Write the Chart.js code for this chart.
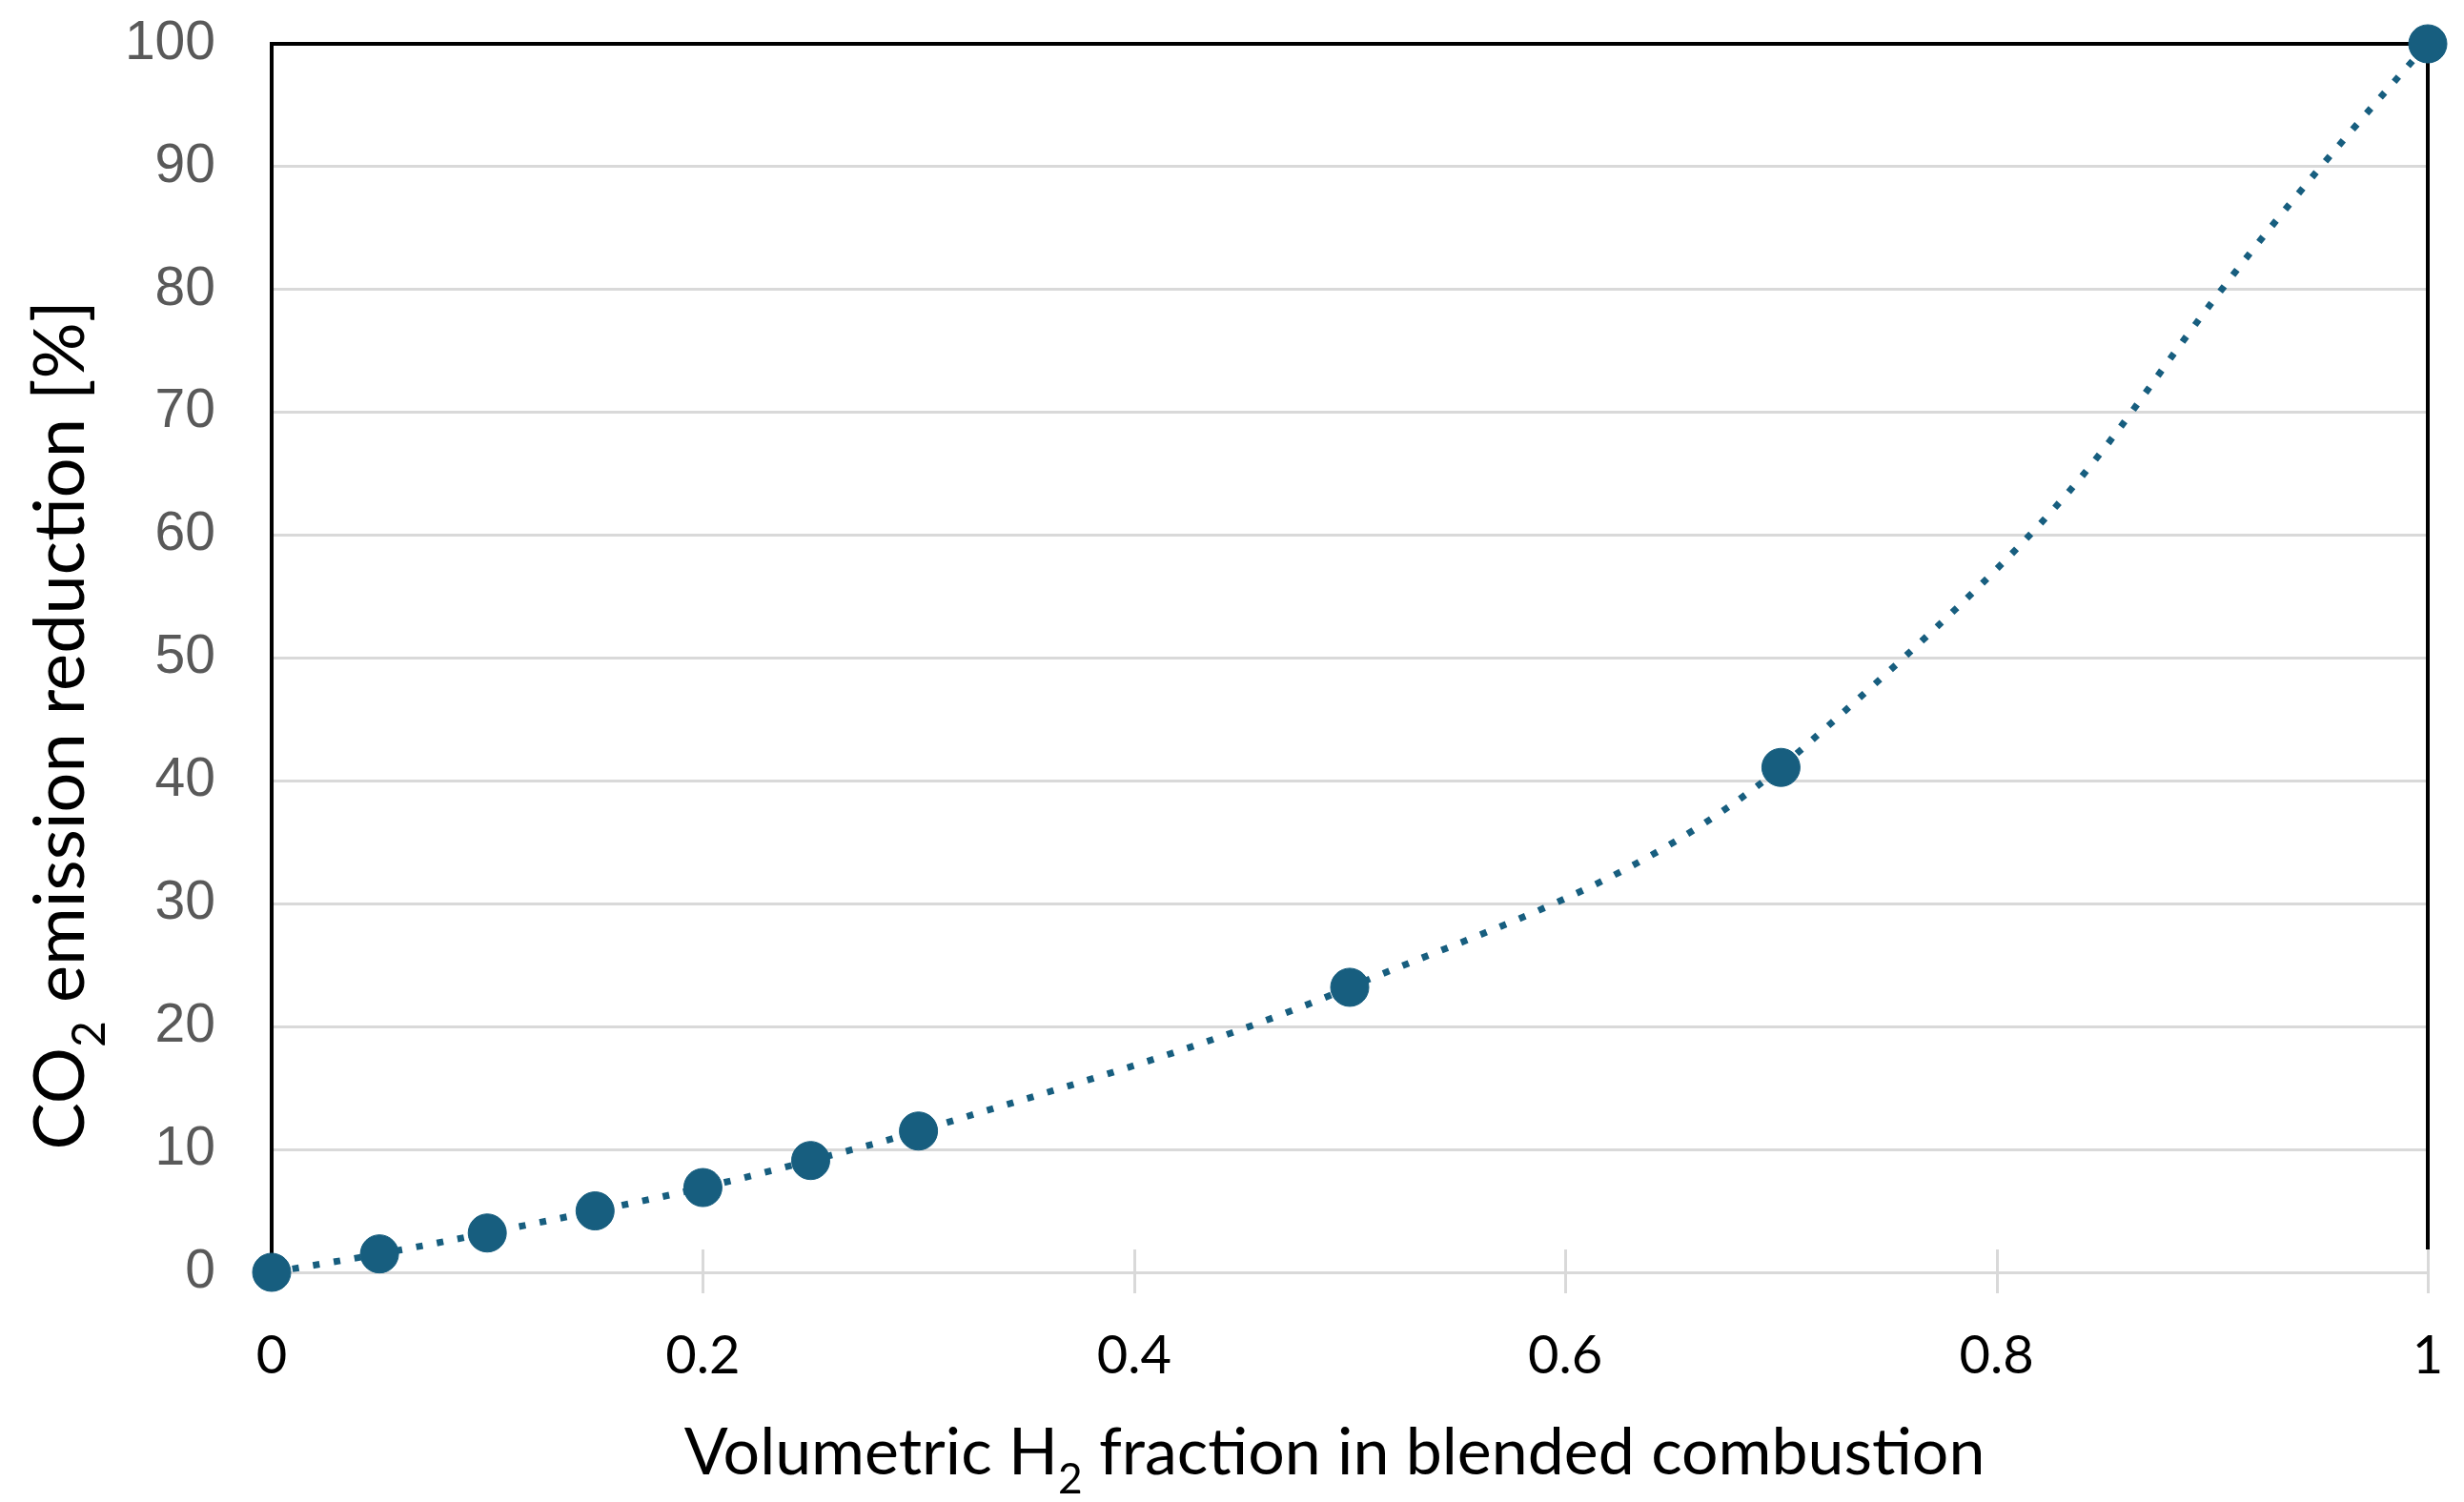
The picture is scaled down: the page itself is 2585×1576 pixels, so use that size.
<!DOCTYPE html>
<html lang="en">
<head>
<meta charset="UTF-8">
<title>CO2 emission reduction vs H2 fraction</title>
<script src="https://cdn.jsdelivr.net/npm/chart.js"></script>
<style>
  html, body { margin: 0; padding: 0; background: #ffffff; }
  #wrap { width: 2585px; height: 1576px; }
</style>
</head>
<body>
<div id="wrap"><canvas id="chart" width="2585" height="1576"></canvas></div>
<script>
// values
const h2Fraction = [0, 0.05, 0.1, 0.15, 0.2, 0.25, 0.3, 0.5, 0.7, 1.0];
const co2Reduction = [0, 1.5, 3.2, 5.0, 6.9, 9.1, 11.5, 23.2, 41.1, 100];

const xMin = 0, xMax = 1, xStep = 0.2;
const yMin = 0, yMax = 100, yStep = 10;

// axis titles, split so the "2" can be drawn as a subscript
const xTitleParts = [{ t: 'Volumetric H' }, { t: '2', sub: true }, { t: ' fraction in blended combustion' }];
const yTitleParts = [{ t: 'CO' }, { t: '2', sub: true }, { t: ' emission reduction [%]' }];

const lineColor = '#175E7F';
const gridColor = '#d9d9d9';
const titleFont = 'Lato, "Noto Sans", sans-serif';

// the last, widely spaced stretch of the curve is bent harder than the rest
const lastSeg = h2Fraction.length - 2;
const pts = h2Fraction.map((x, i) => ({ x: x, y: co2Reduction[i] }));
const upperPts = pts.slice(lastSeg - 1);

function drawRich(ctx, parts, size) {
    let total = 0;
    parts.forEach(p => {
        ctx.font = (p.sub ? size * 0.65 : size) + 'px ' + titleFont;
        p.w = ctx.measureText(p.t).width;
        total += p.w;
    });
    let x = -total / 2;
    parts.forEach(p => {
        ctx.font = (p.sub ? size * 0.65 : size) + 'px ' + titleFont;
        ctx.fillText(p.t, x, p.sub ? size * 0.3 : 0);
        x += p.w;
    });
}

// frame on top/right, cross tick marks on the x axis, and the two axis titles
const decorations = {
    id: 'decorations',
    beforeDatasetsDraw(chart) {
        const { ctx, chartArea } = chart;
        const xs = chart.scales.x;
        ctx.save();
        ctx.strokeStyle = gridColor;
        ctx.lineWidth = 3;
        xs.ticks.forEach(tk => {
            if (tk.value === xMin) return;
            const px = Math.round(xs.getPixelForValue(tk.value)) + 0.5;
            ctx.beginPath();
            ctx.moveTo(px, chartArea.bottom - 24);
            ctx.lineTo(px, chartArea.bottom + 22);
            ctx.stroke();
        });
        ctx.strokeStyle = '#000000';
        ctx.lineWidth = 4;
        ctx.beginPath();
        ctx.moveTo(chartArea.left, chartArea.top);
        ctx.lineTo(chartArea.right, chartArea.top);
        ctx.lineTo(chartArea.right, chartArea.bottom - 24);
        ctx.stroke();
        ctx.restore();
    },
    afterDraw(chart) {
        const { ctx, chartArea } = chart;
        ctx.save();
        ctx.fillStyle = '#000000';
        ctx.textAlign = 'left';
        ctx.textBaseline = 'alphabetic';

        ctx.save();
        ctx.translate((chartArea.left + chartArea.right) / 2 - 16, 1547);
        drawRich(ctx, xTitleParts, 68);
        ctx.restore();

        ctx.save();
        ctx.translate(88, 761);
        ctx.rotate(-Math.PI / 2);
        drawRich(ctx, yTitleParts, 74);
        ctx.restore();

        ctx.restore();
    }
};

const lineStyle = {
    showLine: true,
    borderColor: lineColor,
    borderWidth: 7,
    borderDash: [7, 15],
    borderCapStyle: 'butt',
    backgroundColor: lineColor,
    clip: false
};

new Chart(document.getElementById('chart'), {
    type: 'scatter',
    data: {
        datasets: [{
            ...lineStyle,
            label: 'CO2 emission reduction',
            data: pts,
            order: 0,
            cubicInterpolationMode: 'monotone',
            pointRadius: 20,
            pointBorderWidth: 1,
            pointBorderColor: lineColor,
            pointBackgroundColor: lineColor,
            segment: { borderColor: c => c.p0DataIndex >= lastSeg ? 'rgba(0,0,0,0)' : undefined }
        }, {
            ...lineStyle,
            label: 'upper curve',
            data: upperPts,
            order: 1,
            tension: 0.6,
            pointRadius: 0,
            segment: { borderColor: c => c.p0DataIndex === 0 ? 'rgba(0,0,0,0)' : undefined }
        }]
    },
    options: {
        responsive: false,
        animation: false,
        devicePixelRatio: 1,
        layout: { autoPadding: false, padding: { top: 46, right: 38, left: 0, bottom: 0 } },
        plugins: { legend: { display: false }, tooltip: { enabled: false } },
        scales: {
            x: {
                type: 'linear',
                min: xMin, max: xMax,
                afterFit: s => { s.height = 241; },
                // invisible tick marks only push the labels down
                grid: { display: false, drawTicks: true, tickLength: 54 },
                border: { display: true, color: gridColor, width: 3 },
                ticks: {
                    stepSize: xStep,
                    padding: 0,
                    color: '#000000',
                    font: { family: titleFont, size: 56 },
                    callback: v => String(+v.toFixed(2))
                }
            },
            y: {
                type: 'linear',
                min: yMin, max: yMax,
                afterFit: s => { s.width = 285; },
                grid: { color: gridColor, lineWidth: 3, drawTicks: true, tickLength: 59, tickColor: 'rgba(0,0,0,0)' },
                border: { display: true, color: '#000000', width: 4 },
                ticks: {
                    stepSize: yStep,
                    padding: 0,
                    color: '#595959',
                    font: { family: '"Liberation Sans", Arial, sans-serif', size: 57 }
                }
            }
        }
    },
    plugins: [decorations]
});
</script>
</body>
</html>
